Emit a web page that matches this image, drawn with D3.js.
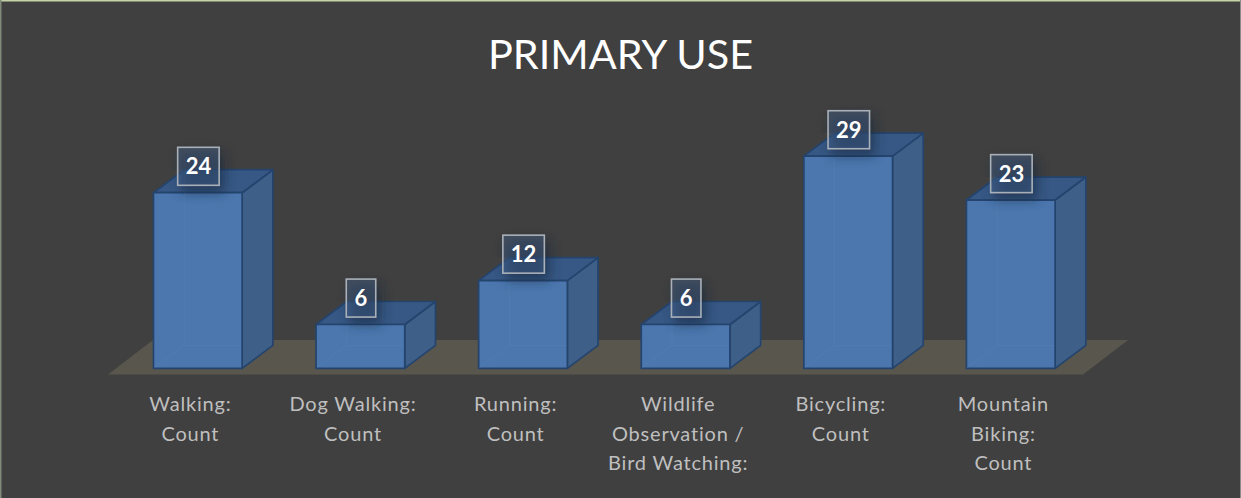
<!DOCTYPE html>
<html><head><meta charset="utf-8">
<script src="https://cdn.jsdelivr.net/npm/d3@7/dist/d3.min.js"></script>
<style>html,body{margin:0;padding:0;background:#404040;overflow:hidden}svg{display:block}</style>
</head><body><svg id="c" width="1241" height="498"></svg>
<script>
const categories = ["Walking: Count","Dog Walking: Count","Running: Count","Wildlife Observation / Bird Watching:","Bicycling: Count","Mountain Biking: Count"];
const values = [24,6,12,6,29,23];
const tickLines = [["Walking:","Count"],["Dog Walking:","Count"],["Running:","Count"],["Wildlife","Observation /","Bird Watching:"],["Bicycling:","Count"],["Mountain","Biking:","Count"]];
const title = "PRIMARY USE";

const W=1241,H=498, baseY=368.4, dx=30.7, dy=23;
const svg=d3.select("#c");
const x=d3.scaleBand().domain(categories).range([116.5,1092.1]).paddingInner(0.4545).paddingOuter(0.2273);
const y=d3.scaleLinear().domain([0,30]).range([baseY,baseY-219.6]);
const bw=x.bandwidth();
const poly=p=>p.map(d=>d.join(",")).join(" ");

const defs=svg.append("defs");
defs.append("filter").attr("id","blur").attr("x","-50%").attr("y","-50%").attr("width","200%").attr("height","200%")
  .append("feGaussianBlur").attr("stdDeviation",6);
const clip=defs.selectAll("clipPath").data(categories).join("clipPath").attr("id",(d,i)=>"cl"+i);
clip.append("polygon").attr("points",(d,i)=>{const X=x(d),T=y(values[i]);
  return poly([[X-40,T-60],[X+bw+dx+20,T-60],[X+bw+dx+20,T-dy-20],[X+bw+dx,T-dy],[X+bw,T],[X+bw,T+14],[X,T+14],[X,T],[X+dx,T-dy],[X-40,T-dy]]);});

svg.append("rect").attr("width",W).attr("height",H).attr("fill","#404040");
svg.append("rect").attr("x",0).attr("y",0).attr("width",W).attr("height",1.5).attr("fill","#c5d3a6");
svg.append("rect").attr("x",0).attr("y",0).attr("width",1.5).attr("height",H).attr("fill","#7f8a78");
svg.append("rect").attr("x",W-1).attr("y",0).attr("width",1).attr("height",H).attr("fill","#8a8a8a");

svg.append("text").attr("x",620.5).attr("y",68.5).attr("text-anchor","middle")
  .attr("font-family","Lato, 'Open Sans', sans-serif").attr("font-size",41.4).attr("fill","#ffffff").text(title);

// floor
const fx0=x.range()[0]-8.5, fx1=x.range()[1]-9;
svg.append("polygon").attr("fill","#59564d")
  .attr("points",poly([[fx0,baseY+6],[fx1,baseY+6],[fx1+45,baseY-28.4],[fx0+45,baseY-28.4]]));

const edge="#24446e";
const g=svg.selectAll("g.bar").data(categories).join("g").attr("class","bar");
g.each(function(c,i){
  const s=d3.select(this),X=x(c),T=y(values[i]),R=X+bw;
  const st=(el,f)=>el.attr("fill",f).attr("stroke",edge).attr("stroke-width",1.7).attr("stroke-linejoin","round");
  st(s.append("polygon").attr("points",poly([[R,T],[R+dx,T-dy],[R+dx,baseY-dy],[R,baseY]])),"#3e5f88");
  st(s.append("polygon").attr("points",poly([[X,T],[X+dx,T-dy],[R+dx,T-dy],[R,T]])),"#375884");
  st(s.append("rect").attr("x",X).attr("y",T).attr("width",bw).attr("height",baseY-T),"#4b77ae");
  s.append("path").attr("fill","none").attr("stroke","#5580b6").attr("stroke-width",1).attr("stroke-opacity",.55)
   .attr("d",`M${X+dx},${T+1}V${baseY-dy}H${R-1}M${X+dx},${baseY-dy}L${X+1},${baseY-1}`);
  // label shadow
  const cx=X+bw/2+0.6, bh=38, lw=values[i]>=10?41.5:29.5, by=T-26.4;
  s.append("g").attr("clip-path",`url(#cl${i})`)
   .append("rect").attr("x",cx-lw/2+3).attr("y",by-bh/2+5).attr("width",lw+2).attr("height",bh+2)
   .attr("fill","#16263e").attr("opacity",.6).attr("filter","url(#blur)");
  s.append("rect").attr("x",cx-lw/2).attr("y",by-bh/2).attr("width",lw).attr("height",bh)
   .attr("fill","#4a6a96").attr("fill-opacity",.35).attr("stroke","#aab0b8").attr("stroke-width",1.6);
  s.append("text").attr("x",cx).attr("y",by+8).attr("text-anchor","middle")
   .attr("font-family","Lato, 'Open Sans', sans-serif").attr("font-weight",700).attr("font-size",22)
   .attr("fill","#fff").text(values[i]);
  const t=s.append("text").attr("text-anchor","middle")
   .attr("font-family","Lato, 'Open Sans', sans-serif").attr("font-size",20).attr("letter-spacing",0.8).attr("fill","#bfbfbf");
  tickLines[i].forEach((l,j)=>t.append("tspan").attr("x",X+bw/2-7.4).attr("y",411+j*29.7).text(l));
});
</script></body></html>
